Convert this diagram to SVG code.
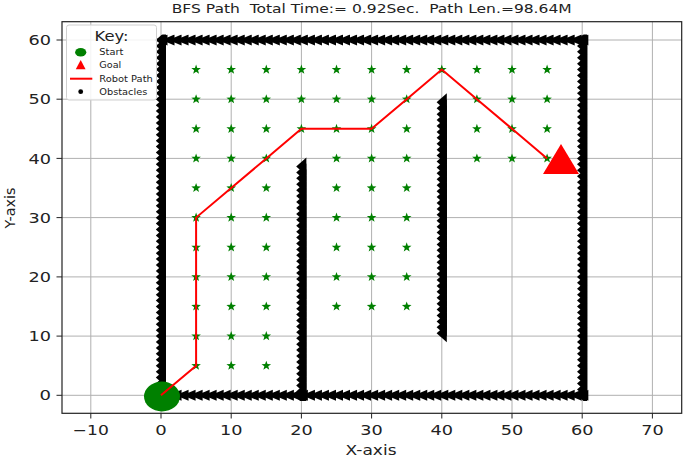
<svg xmlns="http://www.w3.org/2000/svg" xmlns:xlink="http://www.w3.org/1999/xlink" width="685" height="457" viewBox="0 0 685 457">
<style>
text{font-family:"DejaVu Sans","Liberation Sans",sans-serif;fill:#222}
.grid line{stroke:#b0b0b0;stroke-width:1}
.tick line{stroke:#222;stroke-width:1}
.tl{font-size:14px}
.xt{text-anchor:middle}
.yt{text-anchor:end}
.star{fill:#008000}
.wall{fill:#000}
.leg{font-size:8px}
</style>
<defs>
<polygon id="s" points="0,-5 1.2,-1.65 4.8,-1.55 1.95,0.65 2.95,4.1 0,2.1 -2.95,4.1 -1.95,0.65 -4.8,-1.55 -1.2,-1.65"/>
<path id="m" d="M-6.5,0L6.5,-5.5L6.5,5.5Z"/>
<path id="mv" d="M-5.2,0L5,-9L5,9Z"/>
<g id="h2"><use href="#m"/><use href="#m" x="7.02"/></g>
<g id="h4"><use href="#h2"/><use href="#h2" x="14.04"/></g>
<g id="h8"><use href="#h4"/><use href="#h4" x="28.08"/></g>
<g id="h16"><use href="#h8"/><use href="#h8" x="56.16"/></g>
<g id="h32"><use href="#h16"/><use href="#h16" x="112.32"/></g>
<g id="h61"><use href="#h32"/><use href="#h16" x="224.64"/><use href="#h8" x="336.96"/><use href="#h4" x="393.12"/><use href="#m" x="421.2"/></g>
<g id="v2"><use href="#mv"/><use href="#mv" y="5.922"/></g>
<g id="v4"><use href="#v2"/><use href="#v2" y="11.844"/></g>
<g id="v8"><use href="#v4"/><use href="#v4" y="23.688"/></g>
<g id="v16"><use href="#v8"/><use href="#v8" y="47.376"/></g>
<g id="v32"><use href="#v16"/><use href="#v16" y="94.752"/></g>
<g id="v61"><use href="#v32"/><use href="#v16" y="189.504"/><use href="#v8" y="284.256"/><use href="#v4" y="331.632"/><use href="#mv" y="355.32"/></g>
<g id="v40"><use href="#v32"/><use href="#v8" y="189.504"/></g>
<clipPath id="outer"><rect x="155" y="34.5" width="433.5" height="366.5"/></clipPath>
</defs>
<rect width="685" height="457" fill="#fff"/>
<text x="171.7" y="13" font-size="12.5" textLength="400" lengthAdjust="spacingAndGlyphs" style="white-space:pre">BFS Path  Total Time:= 0.92Sec.  Path Len.=98.64M</text>
<g class="grid">
<line x1="90.8" y1="21.7" x2="90.8" y2="413.3"/>
<line x1="161" y1="21.7" x2="161" y2="413.3"/>
<line x1="231.2" y1="21.7" x2="231.2" y2="413.3"/>
<line x1="301.4" y1="21.7" x2="301.4" y2="413.3"/>
<line x1="371.6" y1="21.7" x2="371.6" y2="413.3"/>
<line x1="441.8" y1="21.7" x2="441.8" y2="413.3"/>
<line x1="512" y1="21.7" x2="512" y2="413.3"/>
<line x1="582.2" y1="21.7" x2="582.2" y2="413.3"/>
<line x1="652.4" y1="21.7" x2="652.4" y2="413.3"/>
<line x1="62" y1="395.3" x2="681.7" y2="395.3"/>
<line x1="62" y1="336.1" x2="681.7" y2="336.1"/>
<line x1="62" y1="276.9" x2="681.7" y2="276.9"/>
<line x1="62" y1="217.6" x2="681.7" y2="217.6"/>
<line x1="62" y1="158.4" x2="681.7" y2="158.4"/>
<line x1="62" y1="99.2" x2="681.7" y2="99.2"/>
<line x1="62" y1="40" x2="681.7" y2="40"/>
</g>
<g id="explored" class="star">
<use href="#s" x="196.1" y="69.6"/><use href="#s" x="231.2" y="69.6"/><use href="#s" x="266.3" y="69.6"/><use href="#s" x="301.4" y="69.6"/><use href="#s" x="336.5" y="69.6"/><use href="#s" x="371.6" y="69.6"/><use href="#s" x="406.7" y="69.6"/><use href="#s" x="441.8" y="69.6"/><use href="#s" x="476.9" y="69.6"/><use href="#s" x="512" y="69.6"/><use href="#s" x="547.1" y="69.6"/>
<use href="#s" x="196.1" y="99.2"/><use href="#s" x="231.2" y="99.2"/><use href="#s" x="266.3" y="99.2"/><use href="#s" x="301.4" y="99.2"/><use href="#s" x="336.5" y="99.2"/><use href="#s" x="371.6" y="99.2"/><use href="#s" x="406.7" y="99.2"/><use href="#s" x="476.9" y="99.2"/><use href="#s" x="512" y="99.2"/><use href="#s" x="547.1" y="99.2"/>
<use href="#s" x="196.1" y="128.8"/><use href="#s" x="231.2" y="128.8"/><use href="#s" x="266.3" y="128.8"/><use href="#s" x="301.4" y="128.8"/><use href="#s" x="336.5" y="128.8"/><use href="#s" x="371.6" y="128.8"/><use href="#s" x="406.7" y="128.8"/><use href="#s" x="476.9" y="128.8"/><use href="#s" x="512" y="128.8"/><use href="#s" x="547.1" y="128.8"/>
<use href="#s" x="196.1" y="158.4"/><use href="#s" x="231.2" y="158.4"/><use href="#s" x="266.3" y="158.4"/><use href="#s" x="336.5" y="158.4"/><use href="#s" x="371.6" y="158.4"/><use href="#s" x="406.7" y="158.4"/><use href="#s" x="476.9" y="158.4"/><use href="#s" x="512" y="158.4"/><use href="#s" x="547.1" y="158.4"/>
<use href="#s" x="196.1" y="188"/><use href="#s" x="231.2" y="188"/><use href="#s" x="266.3" y="188"/><use href="#s" x="336.5" y="188"/><use href="#s" x="371.6" y="188"/><use href="#s" x="406.7" y="188"/>
<use href="#s" x="196.1" y="217.6"/><use href="#s" x="231.2" y="217.6"/><use href="#s" x="266.3" y="217.6"/><use href="#s" x="336.5" y="217.6"/><use href="#s" x="371.6" y="217.6"/><use href="#s" x="406.7" y="217.6"/>
<use href="#s" x="196.1" y="247.3"/><use href="#s" x="231.2" y="247.3"/><use href="#s" x="266.3" y="247.3"/><use href="#s" x="336.5" y="247.3"/><use href="#s" x="371.6" y="247.3"/><use href="#s" x="406.7" y="247.3"/>
<use href="#s" x="196.1" y="276.9"/><use href="#s" x="231.2" y="276.9"/><use href="#s" x="266.3" y="276.9"/><use href="#s" x="336.5" y="276.9"/><use href="#s" x="371.6" y="276.9"/><use href="#s" x="406.7" y="276.9"/>
<use href="#s" x="196.1" y="306.5"/><use href="#s" x="231.2" y="306.5"/><use href="#s" x="266.3" y="306.5"/><use href="#s" x="336.5" y="306.5"/><use href="#s" x="371.6" y="306.5"/><use href="#s" x="406.7" y="306.5"/>
<use href="#s" x="196.1" y="336.1"/><use href="#s" x="231.2" y="336.1"/><use href="#s" x="266.3" y="336.1"/>
<use href="#s" x="196.1" y="365.7"/><use href="#s" x="231.2" y="365.7"/><use href="#s" x="266.3" y="365.7"/>
</g>
<g id="obstacles" class="wall">
<g clip-path="url(#outer)">
<use href="#v61" x="161" y="40"/>
<use href="#v61" x="582.2" y="40"/>
<use href="#v40" x="301.4" y="166.5"/>
<use href="#h61" x="161" y="40"/>
<use href="#h61" x="161" y="395.3"/>
</g>
<use href="#v40" x="441.8" y="102.3"/>
</g>
<g id="start"><ellipse cx="162" cy="396.5" rx="18" ry="15" fill="#008000"/></g>
<g id="connectors">
<polyline id="robot-path" fill="none" stroke="#ff0000" stroke-width="2" points="161,395.3 196.1,365.7 196.1,217.6 231.2,188 266.3,158.4 301.4,128.8 371.6,128.8 406.7,99.2 441.8,69.6 476.9,99.2 512,128.8 547.1,158.4"/>
</g>
<g id="goal"><polygon points="561,144 543,174 579,174" fill="#ff0000"/></g>
<rect x="62" y="21.7" width="619.7" height="391.6" fill="none" stroke="#222" stroke-width="1.2"/>
<g class="tick">
<line x1="90.8" y1="413.3" x2="90.8" y2="418.5"/><line x1="161" y1="413.3" x2="161" y2="418.5"/><line x1="231.2" y1="413.3" x2="231.2" y2="418.5"/><line x1="301.4" y1="413.3" x2="301.4" y2="418.5"/><line x1="371.6" y1="413.3" x2="371.6" y2="418.5"/><line x1="441.8" y1="413.3" x2="441.8" y2="418.5"/><line x1="512" y1="413.3" x2="512" y2="418.5"/><line x1="582.2" y1="413.3" x2="582.2" y2="418.5"/><line x1="652.4" y1="413.3" x2="652.4" y2="418.5"/>
<line x1="56.5" y1="395.3" x2="62" y2="395.3"/><line x1="56.5" y1="336.1" x2="62" y2="336.1"/><line x1="56.5" y1="276.9" x2="62" y2="276.9"/><line x1="56.5" y1="217.6" x2="62" y2="217.6"/><line x1="56.5" y1="158.4" x2="62" y2="158.4"/><line x1="56.5" y1="99.2" x2="62" y2="99.2"/><line x1="56.5" y1="40" x2="62" y2="40"/>
</g>
<g class="tl xt">
<text x="90.8" y="435" textLength="36" lengthAdjust="spacingAndGlyphs">−10</text>
<text x="161" y="435" textLength="11.5" lengthAdjust="spacingAndGlyphs">0</text>
<text x="231.2" y="435" textLength="22.5" lengthAdjust="spacingAndGlyphs">10</text>
<text x="301.4" y="435" textLength="22.5" lengthAdjust="spacingAndGlyphs">20</text>
<text x="371.6" y="435" textLength="22.5" lengthAdjust="spacingAndGlyphs">30</text>
<text x="441.8" y="435" textLength="22.5" lengthAdjust="spacingAndGlyphs">40</text>
<text x="512" y="435" textLength="22.5" lengthAdjust="spacingAndGlyphs">50</text>
<text x="582.2" y="435" textLength="22.5" lengthAdjust="spacingAndGlyphs">60</text>
<text x="652.4" y="435" textLength="22.5" lengthAdjust="spacingAndGlyphs">70</text>
</g>
<g class="tl yt">
<text x="51" y="400.4" textLength="11.5" lengthAdjust="spacingAndGlyphs">0</text>
<text x="51" y="341.2" textLength="22.5" lengthAdjust="spacingAndGlyphs">10</text>
<text x="51" y="282" textLength="22.5" lengthAdjust="spacingAndGlyphs">20</text>
<text x="51" y="222.7" textLength="22.5" lengthAdjust="spacingAndGlyphs">30</text>
<text x="51" y="163.5" textLength="22.5" lengthAdjust="spacingAndGlyphs">40</text>
<text x="51" y="104.3" textLength="22.5" lengthAdjust="spacingAndGlyphs">50</text>
<text x="51" y="45.1" textLength="22.5" lengthAdjust="spacingAndGlyphs">60</text>
</g>
<text x="371" y="455" font-size="14" text-anchor="middle" textLength="51" lengthAdjust="spacingAndGlyphs">X-axis</text>
<text transform="translate(14.5,208) rotate(-90)" font-size="14" text-anchor="middle" textLength="41" lengthAdjust="spacingAndGlyphs">Y-axis</text>
<g id="legend">
<rect x="66.5" y="25" width="90" height="75" rx="2.5" fill="#fff" fill-opacity="0.85" stroke="#d0d0d0" stroke-width="1"/>
<text x="111.5" y="40.5" font-size="14" text-anchor="middle" textLength="34" lengthAdjust="spacingAndGlyphs">Key:</text>
<ellipse cx="80.7" cy="52.3" rx="5.6" ry="4.3" fill="#008000"/>
<polygon points="80.7,60 75.8,69.2 85.6,69.2" fill="#ff0000"/>
<line x1="70" y1="78.7" x2="92.3" y2="78.7" stroke="#ff0000" stroke-width="2"/>
<circle cx="80.7" cy="91.7" r="2.4" fill="#000"/>
<text class="leg" x="99.3" y="55.2" textLength="24" lengthAdjust="spacingAndGlyphs">Start</text>
<text class="leg" x="99.3" y="68" textLength="22" lengthAdjust="spacingAndGlyphs">Goal</text>
<text class="leg" x="99.3" y="81.6" textLength="53.5" lengthAdjust="spacingAndGlyphs">Robot Path</text>
<text class="leg" x="99.3" y="94.6" textLength="48" lengthAdjust="spacingAndGlyphs">Obstacles</text>
</g>
</svg>
